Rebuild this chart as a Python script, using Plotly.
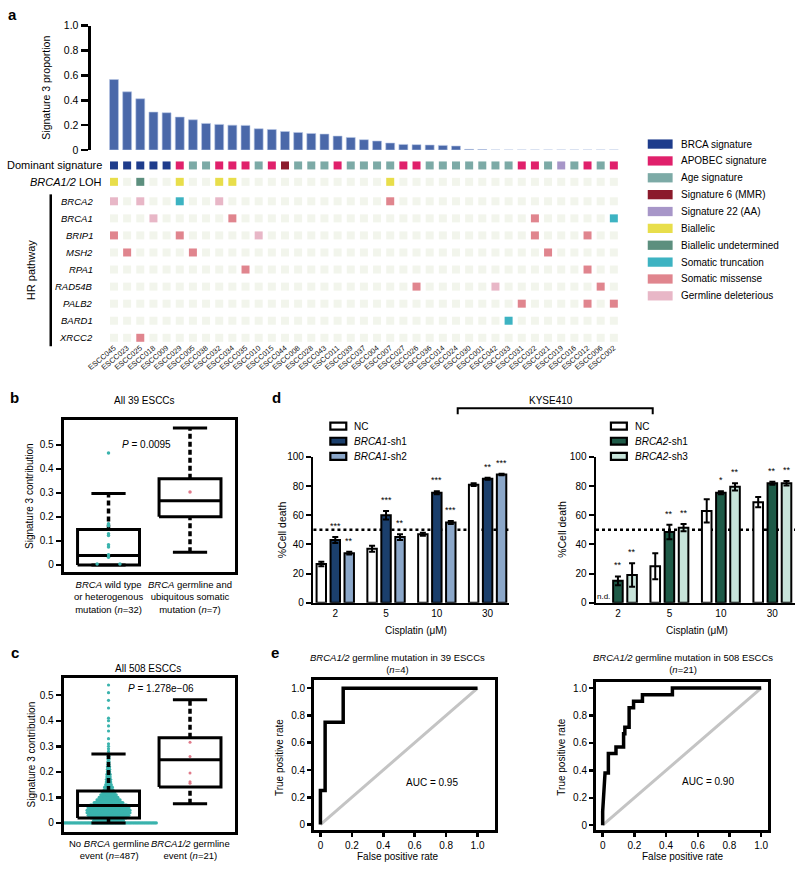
import plotly.graph_objects as go

W, H = 795, 869
FONT = "Liberation Sans, Arial, Helvetica, sans-serif"

# ======================= DATA =======================
# ---- panel a ----
samples = ["ESCC045", "ESCC023", "ESCC025", "ESCC018", "ESCC009", "ESCC029", "ESCC005", "ESCC038",
           "ESCC032", "ESCC034", "ESCC035", "ESCC010", "ESCC015", "ESCC044", "ESCC008", "ESCC028",
           "ESCC043", "ESCC011", "ESCC039", "ESCC037", "ESCC004", "ESCC007", "ESCC027", "ESCC026",
           "ESCC036", "ESCC014", "ESCC024", "ESCC030", "ESCC001", "ESCC042", "ESCC033", "ESCC031",
           "ESCC022", "ESCC021", "ESCC019", "ESCC016", "ESCC012", "ESCC006", "ESCC002"]
sig3_proportion = [0.567, 0.468, 0.412, 0.305, 0.300, 0.265, 0.243, 0.214, 0.206, 0.200,
                   0.198, 0.171, 0.165, 0.149, 0.141, 0.133, 0.128, 0.112, 0.101, 0.083,
                   0.072, 0.056, 0.045, 0.043, 0.040, 0.037, 0.032, 0.005, 0.003,
                   0, 0, 0, 0, 0, 0, 0, 0, 0, 0]

legend_labels = ["BRCA signature", "APOBEC signature", "Age signature", "Signature 6 (MMR)",
                 "Signature 22 (AA)", "Biallelic", "Biallelic undetermined",
                 "Somatic truncation", "Somatic missense", "Germline deleterious"]
legend_colors = ["#1e3c8c", "#e0206b", "#7caaa6", "#8b1a2b", "#a796c8",
                 "#e8de4b", "#5c8f7e", "#3db3c2", "#e0858e", "#e8b7c7"]
empty_cell_color = "#f2f5ec"

signature_code = {"B": "BRCA signature", "P": "APOBEC signature", "A": "Age signature",
                  "M": "Signature 6 (MMR)", "R": "Signature 22 (AA)"}
dominant_signature = "BBBBBPAAPPPAPMAAAPAAAAPPAAAAAAAPPARAPAP"

loh_status = {"ESCC045": "Biallelic", "ESCC025": "Biallelic undetermined", "ESCC029": "Biallelic",
              "ESCC032": "Biallelic", "ESCC034": "Biallelic", "ESCC007": "Biallelic"}

hr_genes = ["BRCA2", "BRCA1", "BRIP1", "MSH2", "RPA1", "RAD54B", "PALB2", "BARD1", "XRCC2"]
mutation_code = {"G": "Germline deleterious", "T": "Somatic truncation", "S": "Somatic missense"}
hr_events = {
    "BRCA2": {"ESCC045": "G", "ESCC025": "G", "ESCC029": "T", "ESCC032": "G", "ESCC007": "S"},
    "BRCA1": {"ESCC018": "G", "ESCC034": "S", "ESCC022": "S", "ESCC002": "T"},
    "BRIP1": {"ESCC045": "S", "ESCC029": "S", "ESCC010": "G", "ESCC022": "S", "ESCC012": "S"},
    "MSH2": {"ESCC023": "S", "ESCC005": "S", "ESCC021": "S"},
    "RPA1": {"ESCC035": "S", "ESCC012": "S"},
    "RAD54B": {"ESCC026": "S", "ESCC042": "G", "ESCC006": "S"},
    "PALB2": {"ESCC031": "S", "ESCC012": "S", "ESCC002": "S"},
    "BARD1": {"ESCC033": "T"},
    "XRCC2": {"ESCC025": "S"},
}

# ---- panel b (39 ESCCs) ----
b_q1 = [0.0, 0.201]
b_median = [0.039, 0.267]
b_q3 = [0.147, 0.359]
b_low = [0.0, 0.053]
b_high = [0.297, 0.571]
b_wt_values = [0.466, 0.171, 0.163, 0.130, 0.122, 0.084, 0.074, 0.042, 0.032, 0.004]
b_wt_counts = [1, 1, 1, 1, 1, 1, 1, 1, 1, 2]
b_mut_values = [0.304]
b_mut_counts = [1]

# ---- panel c (508 ESCCs) ----
c_q1 = [0.019, 0.141]
c_median = [0.068, 0.247]
c_q3 = [0.125, 0.334]
c_low = [0.0, 0.075]
c_high = [0.270, 0.482]
c_nobrca_values = [0.00, 0.01, 0.02, 0.03, 0.04, 0.05, 0.06, 0.07, 0.08, 0.09, 0.10, 0.11,
                   0.12, 0.13, 0.14, 0.15, 0.16, 0.17, 0.18, 0.19, 0.20, 0.21, 0.22, 0.23,
                   0.24, 0.25, 0.26, 0.27, 0.28, 0.29, 0.30, 0.31, 0.33, 0.36, 0.38, 0.40,
                   0.41, 0.45, 0.48, 0.51, 0.54]
c_nobrca_counts = [70, 28, 33, 38, 40, 40, 38, 34, 27, 22, 18, 15,
                   12, 9, 8, 6, 5, 5, 4, 4, 3, 3, 3, 2,
                   2, 2, 2, 1, 1, 1, 1, 1, 1, 1, 1, 1,
                   1, 1, 1, 1, 1]
c_brca_values = [0.316, 0.260, 0.196, 0.161, 0.155]
c_brca_counts = [1, 1, 1, 1, 1]

# ---- panel d (KYSE410, %cell death) ----
concentrations = ["2", "5", "10", "30"]
brca1_nc = [26.5, 37, 47, 81]
brca1_nc_err = [1.5, 2, 1, 1]
brca1_sh1 = [43, 60, 75.5, 85]
brca1_sh1_err = [2, 3, 1, 0.7]
brca1_sh2 = [34, 45, 55, 88]
brca1_sh2_err = [1, 2, 1, 0.5]
brca1_sig_sh1 = ["***", "***", "***", "**"]
brca1_sig_sh2 = ["**", "**", "***", "***"]

brca2_nc = [None, 25, 63, 69]
brca2_nc_err = [0, 9, 8, 3.5]
brca2_sh1 = [15, 48.5, 75.5, 82]
brca2_sh1_err = [3, 5, 1, 1]
brca2_sh2 = [19, 51.5, 79.5, 82]
brca2_sh2_err = [8, 2.5, 2.5, 1.5]
brca2_sig_sh1 = ["**", "**", "*", "**"]
brca2_sig_sh2 = ["**", "**", "**", "**"]
half_death = 50

# ---- panel e (ROC) ----
roc39_fpr = [0, 0, 0.03, 0.03, 0.145, 0.145, 1.0]
roc39_tpr = [0, 0.25, 0.25, 0.75, 0.75, 1.0, 1.0]
roc508_fpr = [0, 0, 0.015, 0.036, 0.036, 0.084, 0.084, 0.132, 0.132, 0.140, 0.140, 0.167,
              0.167, 0.195, 0.195, 0.251, 0.251, 0.440, 0.440, 1.0]
roc508_tpr = [0, 0.10, 0.381, 0.381, 0.524, 0.524, 0.571, 0.571, 0.667, 0.667, 0.714, 0.714,
              0.857, 0.857, 0.905, 0.905, 0.952, 0.952, 1.0, 1.0]
chance_line = [0, 1]


# ======================= LAYOUT HELPERS =======================
def hx(p):
    return p / W


def hy(p):
    return 1 - p / H


def dom_x(a, b):
    return [hx(a), hx(b)]


def dom_y(top, bottom):
    return [hy(bottom), hy(top)]


fig = go.Figure()


def note(text, x, y, size=10, xref="paper", yref="paper", xanchor="center",
         yanchor="middle", angle=0, **kw):
    if xref == "paper":
        x = hx(x)
    if yref == "paper":
        y = hy(y)
    fig.add_annotation(text=text, x=x, y=y, xref=xref, yref=yref, xanchor=xanchor,
                       yanchor=yanchor, textangle=angle, showarrow=False,
                       font=dict(family=FONT, size=size, color="black"), **kw)


color_of = dict(zip(legend_labels, legend_colors))
n = len(samples)
idx = list(range(n))

# ---------------- panel a: bars ----------------
fig.add_trace(go.Bar(x=idx, y=sig3_proportion, width=0.68,
                     marker=dict(color="#4a68a9", line=dict(color="#b9c8e6", width=0.6)),
                     xaxis="x", yaxis="y", hoverinfo="skip"))

# ---------------- panel a: tile rows ----------------
ROW_POS = [0.0, 0.96] + [2.1 + k for k in range(len(hr_genes))]
rows = [[color_of[signature_code[c]] for c in dominant_signature],
        [color_of[loh_status[s]] if s in loh_status else empty_cell_color for s in samples]]
for g in hr_genes:
    ev = hr_events[g]
    rows.append([color_of[mutation_code[ev[s]]] if s in ev else empty_cell_color for s in samples])
for colors, ypos in zip(rows, ROW_POS):
    fig.add_trace(go.Scatter(x=idx, y=[ypos] * n, mode="markers", cliponaxis=False,
                             marker=dict(symbol="square", size=8, color=colors, line=dict(width=0)),
                             xaxis="x2", yaxis="y2", hoverinfo="skip"))

note("Dominant signature", 101, ROW_POS[0], size=11, yref="y2", xanchor="right")
note("<i>BRCA1/2</i> LOH", 101, ROW_POS[1], size=11, yref="y2", xanchor="right")
for g, ypos in zip(hr_genes, ROW_POS[2:]):
    note("<i>%s</i>" % g, 91, ypos, size=9.5, yref="y2", xanchor="right")
note("HR pathway", 27, 268, size=11, angle=-90)
fig.add_shape(type="line", xref="paper", yref="paper", x0=hx(47), x1=hx(47), y0=hy(191), y1=hy(345),
              line=dict(color="black", width=2.5))

LEG_Y0, LEG_DY = 140, 17.1
for i, (lab, col) in enumerate(zip(legend_labels, legend_colors)):
    yc = LEG_Y0 + i * LEG_DY
    fig.add_shape(type="rect", xref="paper", yref="paper", x0=hx(647), x1=hx(672),
                  y0=hy(yc + 4.7), y1=hy(yc - 4.7), fillcolor=col, line=dict(width=0))
    note(lab, 678, yc, size=10, xanchor="left")

note("Signature 3 proportion", 42, 83, size=10.5, angle=-90)


# ---------------- panels b, c: boxes ----------------
def swarm(values, counts, center, step, zero_step=None):
    xs, ys = [], []
    for v, c in zip(values, counts):
        st = zero_step if (zero_step is not None and v == 0) else step
        for i in range(c):
            xs.append(center + (i - (c - 1) / 2) * st)
            ys.append(v)
    return xs, ys


def add_box(xa, ya, center, q1, med, q3, lo, hi, hb=0.38, hc=0.21):
    sx = [center - hb, center + hb, center + hb, center - hb, center - hb, None,
          center - hb, center + hb, None,
          center - hc, center + hc, None, center - hc, center + hc]
    sy = [q1, q1, q3, q3, q1, None, med, med, None, hi, hi, None, lo, lo]
    fig.add_trace(go.Scatter(x=sx, y=sy, mode="lines", line=dict(color="black", width=3),
                             xaxis=xa, yaxis=ya, hoverinfo="skip", connectgaps=False))
    fig.add_trace(go.Scatter(x=[center, center, None, center, center], y=[q3, hi, None, lo, q1],
                             mode="lines", line=dict(color="black", width=3.5, dash="5px,3px"),
                             xaxis=xa, yaxis=ya, hoverinfo="skip", connectgaps=False))


TEAL = "#3ab3ad"
PINK = "#e07a8a"

# panel b
for k in range(2):
    add_box("x3", "y3", k + 1, b_q1[k], b_median[k], b_q3[k], b_low[k], b_high[k])
bx, by = swarm(b_wt_values, b_wt_counts, 1, 0.28)
fig.add_trace(go.Scatter(x=bx, y=by, mode="markers", marker=dict(color=TEAL, size=3.5),
                         xaxis="x3", yaxis="y3", hoverinfo="skip"))
bx, by = swarm(b_mut_values, b_mut_counts, 2, 0.28)
fig.add_trace(go.Scatter(x=bx, y=by, mode="markers", marker=dict(color=PINK, size=3.5),
                         xaxis="x3", yaxis="y3", hoverinfo="skip"))

# panel c
cx, cy = swarm(c_nobrca_values, c_nobrca_counts, 1, 0.0135, zero_step=0.017)
fig.add_trace(go.Scatter(x=cx, y=cy, mode="markers", marker=dict(color=TEAL, size=3.2),
                         xaxis="x4", yaxis="y4", hoverinfo="skip"))
cx, cy = swarm(c_brca_values, c_brca_counts, 2, 0.2)
fig.add_trace(go.Scatter(x=cx, y=cy, mode="markers", marker=dict(color=PINK, size=3),
                         xaxis="x4", yaxis="y4", hoverinfo="skip"))
for k in range(2):
    add_box("x4", "y4", k + 1, c_q1[k], c_median[k], c_q3[k], c_low[k], c_high[k])

note("All 39 ESCCs", 141.7, 400)
note("<i>P</i> = 0.0095", 143, 445)
note("Signature 3 contribution", 25, 497, angle=-90)
note("<i>BRCA</i> wild type<br>or heterogenous<br>mutation (<i>n</i>=32)", 1, 579,
     size=9.5, xref="x3", yanchor="top")
note("<i>BRCA</i> germline and<br>ubiquitous somatic<br>mutation (<i>n</i>=7)", 2, 579,
     size=9.5, xref="x3", yanchor="top")

note("All 508 ESCCs", 145, 671.7)
note("<i>P</i> = 1.278e\u221206", 158, 691.7)
note("Signature 3 contribution", 28, 759, angle=-90)
note("No <i>BRCA</i> germline<br>event (<i>n</i>=487)", 1, 841.5, size=9.5, xref="x4", yanchor="top")
note("<i>BRCA1/2</i> germline<br>event (<i>n</i>=21)", 2, 841.5, size=9.5, xref="x4", yanchor="top")

# ---------------- panel d ----------------
SHIFT = 0.275
BW = 0.186


def add_bar_series(xa, ya, vals, errs, shift, color):
    xs = [i + shift for i in range(len(concentrations))]
    fig.add_trace(go.Bar(x=xs, y=vals, width=BW,
                         marker=dict(color=color, line=dict(color="black", width=2)),
                         error_y=dict(type="data", array=errs, color="black", thickness=2, width=3),
                         xaxis=xa, yaxis=ya, hoverinfo="skip"))


def add_stars(xa, ya, vals, errs, stars, shift):
    for i, (v, e, s) in enumerate(zip(vals, errs, stars)):
        note(s, i + shift, v + e, size=9, xref=xa, yref=ya, yanchor="middle", yshift=11)


add_bar_series("x5", "y5", brca1_nc, brca1_nc_err, -SHIFT, "white")
add_bar_series("x5", "y5", brca1_sh1, brca1_sh1_err, 0, "#1b3f6c")
add_bar_series("x5", "y5", brca1_sh2, brca1_sh2_err, SHIFT, "#8ba7c9")
add_stars("x5", "y5", brca1_sh1, brca1_sh1_err, brca1_sig_sh1, 0)
add_stars("x5", "y5", brca1_sh2, brca1_sh2_err, brca1_sig_sh2, SHIFT)

add_bar_series("x6", "y6", brca2_nc, brca2_nc_err, -SHIFT, "white")
add_bar_series("x6", "y6", brca2_sh1, brca2_sh1_err, 0, "#1e5a47")
add_bar_series("x6", "y6", brca2_sh2, brca2_sh2_err, SHIFT, "#c7e4da")
add_stars("x6", "y6", brca2_sh1, brca2_sh1_err, brca2_sig_sh1, 0)
add_stars("x6", "y6", brca2_sh2, brca2_sh2_err, brca2_sig_sh2, SHIFT)
note("n.d.", -SHIFT, 4, size=8, xref="x6", yref="y6")

for xa, ya in (("x5", "y5"), ("x6", "y6")):
    fig.add_shape(type="line", xref=xa + " domain", yref=ya, x0=0, x1=1, y0=half_death, y1=half_death,
                  line=dict(color="black", width=2.5, dash="dot"), layer="below")

# KYSE410 bracket
fig.add_shape(type="path", xref="paper", yref="paper",
              path="M %f,%f V %f H %f V %f" % (hx(456), hy(414), hy(408), hx(652), hy(414)),
              line=dict(color="black", width=2))
note("KYSE410", 550, 400)

d_leg_rows = [426, 441.3, 456.7]
for x0, labels, colors in ((328, ["NC", "<i>BRCA1</i>-sh1", "<i>BRCA1</i>-sh2"], ["white", "#1b3f6c", "#8ba7c9"]),
                           (610, ["NC", "<i>BRCA2</i>-sh1", "<i>BRCA2</i>-sh3"], ["white", "#1e5a47", "#c7e4da"])):
    for yc, lab, col in zip(d_leg_rows, labels, colors):
        fig.add_shape(type="rect", xref="paper", yref="paper", x0=hx(x0), x1=hx(x0 + 16),
                      y0=hy(yc + 3.5), y1=hy(yc - 3.5), fillcolor=col,
                      line=dict(color="black", width=2.2))
        note(lab, x0 + 22, yc, xanchor="left")

note("%Cell death", 279, 531, size=10.5, angle=-90)
note("%Cell death", 560, 531, size=10.5, angle=-90)
note("Cisplatin (\u03bcM)", 414, 633)
note("Cisplatin (\u03bcM)", 697, 633)

# ---------------- panel e ----------------
for xa, ya, fpr, tpr in (("x7", "y7", roc39_fpr, roc39_tpr), ("x8", "y8", roc508_fpr, roc508_tpr)):
    fig.add_trace(go.Scatter(x=chance_line, y=chance_line, mode="lines",
                             line=dict(color="#c4c4c4", width=3), xaxis=xa, yaxis=ya, hoverinfo="skip"))
    fig.add_trace(go.Scatter(x=fpr, y=tpr, mode="lines", line=dict(color="black", width=3.5),
                             xaxis=xa, yaxis=ya, hoverinfo="skip"))

note("<i>BRCA1/2</i> germline mutation in 39 ESCCs<br>(<i>n</i>=4)", 395, 653.5, size=9.5, yanchor="top")
note("<i>BRCA1/2</i> germline mutation in 508 ESCCs<br>(<i>n</i>=21)", 682, 653.5, size=9.5, yanchor="top")
note("AUC = 0.95", 0.71, 0.31, xref="x7", yref="y7")
note("AUC = 0.90", 0.667, 0.316, xref="x8", yref="y8")
note("True positive rate", 277, 762, angle=-90)
note("True positive rate", 560, 762, angle=-90)
note("False positive rate", 396, 862)
note("False positive rate", 682, 862)

# panel letters
for letter, (x, y) in zip("abcde", [(9, 9), (11, 397), (11, 656), (274, 397), (272, 656)]):
    note("<b>%s</b>" % letter, x, y, size=15)

# ======================= AXES =======================
tickfont = dict(family=FONT, size=10, color="black")
frame = dict(showline=True, mirror=True, linewidth=3, linecolor="black", showgrid=False, zeroline=False)
unit_ticks = [0, 0.2, 0.4, 0.6, 0.8, 1.0]
unit_text = ["0", "0.2", "0.4", "0.6", "0.8", "1.0"]
cont_ticks = [0, 0.1, 0.2, 0.3, 0.4, 0.5]
cont_text = ["0", "0.1", "0.2", "0.3", "0.4", "0.5"]
pct_ticks = [0, 20, 40, 60, 80, 100]

XR = [-1.78, 39.67]
layout_axes = dict(
    xaxis=dict(domain=dom_x(87, 635), range=XR, visible=False, anchor="y"),
    yaxis=dict(domain=dom_y(20, 146), range=[0, 1], showline=True, linewidth=3, linecolor="black",
               ticks="outside", ticklen=7, tickwidth=2.5, tickcolor="black", tickvals=unit_ticks,
               ticktext=unit_text, tickfont=dict(family=FONT, size=10.5, color="black"),
               showgrid=False, zeroline=False, anchor="x"),
    xaxis2=dict(domain=dom_x(87, 635), range=XR, anchor="y2", tickvals=idx, ticktext=samples,
                tickangle=-40, tickfont=dict(family=FONT, size=7.5, color="#111111"), ticks="",
                showline=False, showgrid=False, zeroline=False),
    yaxis2=dict(domain=dom_y(150, 340), range=[10.306, -0.676], visible=False, anchor="x2"),
    xaxis3=dict(domain=dom_x(60, 232), range=[0.45, 2.55], showticklabels=False, ticks="",
                anchor="y3", **frame),
    yaxis3=dict(domain=dom_y(420, 574), range=[-0.030, 0.603], ticks="outside", ticklen=5,
                tickwidth=2.5, tickcolor="black", tickvals=cont_ticks, ticktext=cont_text,
                tickfont=tickfont, anchor="x3", **frame),
    xaxis4=dict(domain=dom_x(60, 232), range=[0.45, 2.55], showticklabels=False, ticks="",
                anchor="y4", **frame),
    yaxis4=dict(domain=dom_y(681, 837.7), range=[-0.036, 0.569], ticks="outside", ticklen=5,
                tickwidth=2.5, tickcolor="black", tickvals=cont_ticks, ticktext=cont_text,
                tickfont=tickfont, anchor="x4", **frame),
    xaxis5=dict(domain=dom_x(311, 508), range=[-0.43, 3.43], showline=True, linewidth=2.5,
                linecolor="black", ticks="", tickvals=[0, 1, 2, 3], ticktext=concentrations,
                tickfont=tickfont, showgrid=False, zeroline=False, anchor="y5"),
    yaxis5=dict(domain=dom_y(457.3, 605), range=[0, 100], showline=True, linewidth=2.5,
                linecolor="black", ticks="outside", ticklen=5, tickwidth=2, tickcolor="black",
                tickvals=pct_ticks, tickfont=tickfont, showgrid=False, zeroline=False, anchor="x5"),
    xaxis6=dict(domain=dom_x(595, 795), range=[-0.426, 3.44], showline=True, linewidth=2.5,
                linecolor="black", ticks="", tickvals=[0, 1, 2, 3], ticktext=concentrations,
                tickfont=tickfont, showgrid=False, zeroline=False, anchor="y6"),
    yaxis6=dict(domain=dom_y(457.3, 605), range=[0, 100], showline=True, linewidth=2.5,
                linecolor="black", ticks="outside", ticklen=5, tickwidth=2, tickcolor="black",
                tickvals=pct_ticks, tickfont=tickfont, showgrid=False, zeroline=False, anchor="x6"),
    xaxis7=dict(domain=dom_x(311.7, 493), range=[-0.040, 1.108], ticks="outside", ticklen=4,
                tickwidth=2.5, tickcolor="black", tickvals=unit_ticks, ticktext=unit_text,
                tickfont=tickfont, anchor="y7", **frame),
    yaxis7=dict(domain=dom_y(683, 835.7), range=[-0.041, 1.063], ticks="outside", ticklen=4,
                tickwidth=2.5, tickcolor="black", tickvals=unit_ticks, ticktext=unit_text,
                tickfont=tickfont, anchor="x7", **frame),
    xaxis8=dict(domain=dom_x(595, 768), range=[-0.042, 1.044], ticks="outside", ticklen=4,
                tickwidth=2.5, tickcolor="black", tickvals=unit_ticks, ticktext=unit_text,
                tickfont=tickfont, anchor="y8", **frame),
    yaxis8=dict(domain=dom_y(685, 835.7), range=[-0.036, 1.048], ticks="outside", ticklen=4,
                tickwidth=2.5, tickcolor="black", tickvals=unit_ticks, ticktext=unit_text,
                tickfont=tickfont, anchor="x8", **frame),
)

fig.update_layout(
    width=W, height=H, margin=dict(l=0, r=0, t=0, b=0),
    paper_bgcolor="white", plot_bgcolor="white",
    showlegend=False, hovermode=False, barmode="overlay",
    font=dict(family=FONT, color="black", size=10),
    **layout_axes,
)

fig.write_html("out.html", config={"displayModeBar": False, "staticPlot": True},
               post_script="document.body.style.margin='0px';document.body.style.overflow='hidden';")
